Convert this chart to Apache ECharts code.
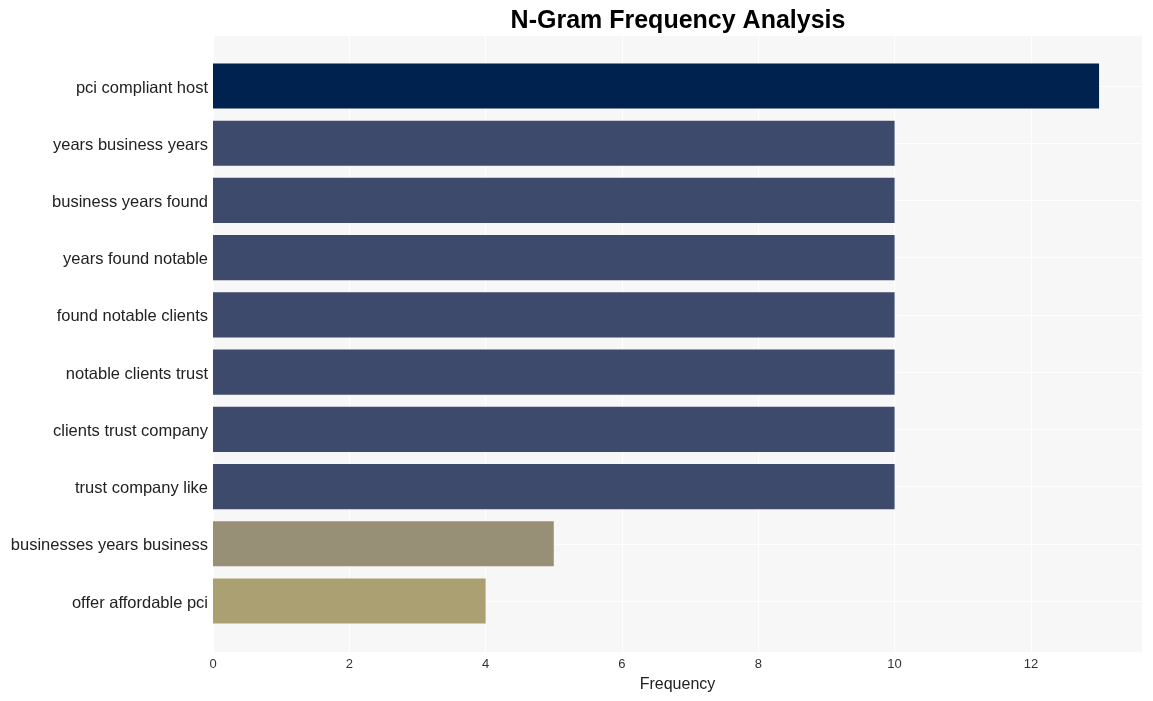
<!DOCTYPE html>
<html>
<head>
<meta charset="utf-8">
<script src="https://cdn.jsdelivr.net/npm/echarts@6/dist/echarts.min.js"></script>
<style>html,body{margin:0;padding:0;background:#fff;}#c{width:1153px;height:701px;}</style>
</head>
<body>
<div id="c"></div>
<script>
const categories = ["pci compliant host","years business years","business years found","years found notable","found notable clients","notable clients trust","clients trust company","trust company like","businesses years business","offer affordable pci"];
const values = [13,10,10,10,10,10,10,10,5,4];
const barColors = ["#00224e","#3d4a6b","#3d4a6b","#3d4a6b","#3d4a6b","#3d4a6b","#3d4a6b","#3d4a6b","#979076","#aba071"];
const xTicks = [0,2,4,6,8,10,12];

const FONT = 'Liberation Sans, Arial, sans-serif';
const XMAX = 13.63;
const chart = echarts.init(document.getElementById('c'), null, {renderer:'canvas'});
chart.setOption({
  backgroundColor:'#ffffff',
  animation:false,
  title:{text:'N-Gram Frequency Analysis',left:673,textAlign:'center',top:4,
    textStyle:{fontFamily:FONT,fontWeight:'bold',fontSize:25,color:'#000'}},
  grid:[
    {left:213,right:11,top:36,bottom:49,show:true,backgroundColor:'#f7f7f7',borderWidth:0},
    {left:213,right:11,top:57.4,bottom:71.4,show:false}
  ],
  xAxis:[
    {gridIndex:0,type:'value',min:0,max:XMAX,interval:2,
      name:'Frequency',nameLocation:'middle',nameGap:25,
      nameTextStyle:{fontFamily:FONT,fontSize:16,color:'#222'},
      axisLine:{show:false},axisTick:{show:false},
      axisLabel:{fontFamily:FONT,fontSize:13,color:'#333',margin:6,
        formatter:function(v){return xTicks.indexOf(v)>=0?String(v):'';}},
      splitLine:{show:true,lineStyle:{color:'#ffffff',width:1}}},
    {gridIndex:1,type:'value',min:0,max:XMAX,interval:2,show:false,splitLine:{show:false}}
  ],
  yAxis:[
    {gridIndex:0,type:'value',min:0,max:1,show:false,splitLine:{show:false}},
    {gridIndex:1,type:'category',data:categories,inverse:true,
      axisLine:{show:false},axisTick:{show:false},
      axisLabel:{margin:5,
        formatter:function(v){return '{a|'+v+'}';},
        rich:{a:{fontFamily:FONT,fontSize:16.5,color:'#222',padding:[4,0,0,0]}}},
      splitLine:{show:false}}
  ],
  series:[
    {type:'line',xAxisIndex:1,yAxisIndex:1,data:[],z:1,
      markLine:{silent:true,z:1,symbol:'none',label:{show:false},animation:false,
        lineStyle:{color:'#ffffff',width:1,type:'solid'},
        data:categories.map(c=>({yAxis:c}))}},
    {type:'bar',xAxisIndex:1,yAxisIndex:1,barWidth:'79%',z:3,
      data:values.map((v,i)=>({value:v,itemStyle:{color:barColors[i]}}))}
  ]
});
</script>
</body>
</html>
